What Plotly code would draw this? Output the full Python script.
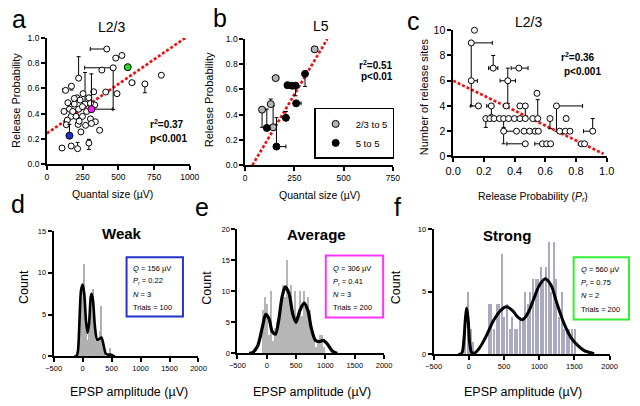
import plotly.graph_objects as go

W, H = 640, 406
FONT = 'Liberation Sans, Arial, sans-serif'

# ---------------- panel a : L2/3, quantal size vs release probability
a_quantal = [419, 482, 525, 385, 464, 222, 801, 595, 686, 172,
             131, 412, 491, 328, 253, 210, 294, 147, 192, 267,
             233, 335, 158, 222, 120, 278, 170, 204, 249, 143,
             305, 339, 219, 271, 369, 238, 136, 106, 170, 215,
             294, 192, 249, 181, 305, 226, 312]
a_prob = [0.913, 0.841, 0.862, 0.746, 0.764, 0.682, 0.705, 0.646, 0.636, 0.618,
          0.585, 0.572, 0.559, 0.574, 0.559, 0.526, 0.526, 0.487, 0.477, 0.477,
          0.508, 0.469, 0.436, 0.436, 0.418, 0.418, 0.379, 0.379, 0.379, 0.349,
          0.359, 0.336, 0.315, 0.308, 0.269, 0.256, 0.313, 0.128, 0.144, 0.123,
          0.167, 0.521, 0.456, 0.418, 0.482, 0.341, 0.323]
# index -> (x minus, x plus, y minus, y plus)
a_errors = {0: (115, 0, 0.02, 0), 4: (200, 0, 0.33, 0), 5: (0, 0, 0, 0.17),
            7: (0, 20, 0, 0), 8: (0, 0, 0.07, 0), 9: (0, 0, 0.03, 0),
            10: (20, 0, 0, 0), 19: (0, 0, 0, 0.25), 39: (0, 0, 0, 0.05),
            40: (0, 0, 0.05, 0.03)}
# the three example connections shown in d, e, f
a_ex_quantal = [158, 312, 566]
a_ex_prob = [0.226, 0.436, 0.769]
a_ex_errors = {0: (0, 0, 0, 0.09), 1: (0, 150, 0, 0.28)}
a_ex_colors = ['#1f2ed6', '#ff1cff', '#22dd22']
a_fit_x = [0, 968]
a_fit_y = [0.244, 1.0]

# ---------------- panel b : L5
b_gray_quantal = [353, 155, 130, 86, 142]
b_gray_prob = [0.918, 0.690, 0.484, 0.440, 0.300]
b_gray_errors = {0: (0, 10, 0, 0.02), 1: (0, 15, 0, 0), 2: (0, 10, 0, 0.04),
                 3: (0, 0, 0.14, 0), 4: (0, 0, 0, 0.17)}
b_black_quantal = [304, 215, 239, 256, 259, 207, 110, 159]
b_black_prob = [0.724, 0.634, 0.630, 0.630, 0.490, 0.375, 0.295, 0.147]
b_black_errors = {0: (0, 0, 0.10, 0), 3: (0, 0, 0.08, 0), 4: (0, 25, 0, 0),
                  5: (0, 0, 0, 0.05), 6: (0, 0, 0, 0.15), 7: (0, 48, 0, 0.23)}
b_fit_x = [37, 417]
b_fit_y = [0.0, 1.0]

# ---------------- panel c : L2/3, release probability vs number of sites
c_prob = [0.139, 0.118, 0.261, 0.428, 0.356, 0.118, 0.546,
          0.165, 0.249, 0.346, 0.435, 0.470, 0.673,
          0.213, 0.239, 0.266, 0.302, 0.329, 0.361, 0.399, 0.435, 0.470, 0.519, 0.551, 0.631, 0.736,
          0.329, 0.413, 0.462, 0.498, 0.534, 0.555, 0.694, 0.730, 0.761, 0.909,
          0.470, 0.582, 0.609, 0.635, 0.835, 0.856]
c_sites = [10, 9, 7, 7, 6, 6, 5,
           4, 4, 4, 4, 4, 4,
           3, 3, 3, 3, 3, 3, 3, 3, 3, 3, 3, 3, 3,
           2, 2, 2, 2, 2, 2, 2, 2, 2, 2,
           1, 1, 1, 1, 1, 1]
c_errors = {1: (0, 0.137, 3.0, 0), 2: (0.03, 0.03, 0, 1.0), 3: (0.05, 0.06, 0, 0),
            4: (0.05, 0.05, 1.8, 1.0), 5: (0, 0.04, 2.0, 0), 6: (0, 0, 0, 0.2),
            7: (0.05, 0, 0, 0), 8: (0.03, 0, 0.7, 0), 12: (0, 0.17, 2.0, 0),
            13: (0, 0, 0.7, 0), 17: (0, 0, 0.7, 0), 21: (0, 0, 0, 1.0),
            23: (0, 0, 0, 1.5), 24: (0, 0, 0.8, 0), 25: (0, 0, 0, 0.2),
            26: (0, 0, 1.0, 0), 27: (0.08, 0, 0, 0), 35: (0.06, 0, 0, 1.0),
            36: (0.12, 0, 0, 0), 37: (0.05, 0, 0, 0), 40: (0.02, 0, 0, 0)}
c_fit_x = [0, 0.98]
c_fit_y = [6.0, 0.2]

# ---------------- panels d, e, f : amplitude histograms with fits
d_bin_start, d_bin_width = -100, 20
d_counts = [0, 1, 2, 5, 7, 8, 11, 5, 3, 2, 3, 5, 7, 7, 8, 4, 2, 1, 2, 2,
            3, 6, 2, 1, 0, 0, 0, 0, 1, 0]
d_fit_x = [-150, -112, -84, -56, -28, 0, 28, 56, 84, 112, 140, 156, 179, 212,
           251, 290, 324, 363, 402, 446, 491, 530, 560]
d_fit_y = [0, 0, 0.5, 4.0, 7.9, 8.6, 7.5, 4.4, 2.8, 4.0, 7.1, 7.5, 6.7, 3.6,
           2.0, 2.1, 2.25, 1.3, 0.3, 0.2, 0.2, 0.05, 0]

e_bin_start, e_bin_width = -60, 35
e_counts = [7, 9, 8, 3, 10, 2, 4, 5, 6, 8, 11, 9, 15, 10, 11, 7, 10, 6, 10, 6,
            10, 8, 9, 7, 4, 3, 1, 2, 3, 3, 1]
e_fit_x = [-300, -238, -155, -72, -17, 39, 94, 149, 205, 260, 315, 382, 442, 498,
           564, 636, 702, 758, 830, 896, 962, 1034, 1117, 1200]
e_fit_y = [0, 0.15, 1.2, 4.3, 6.3, 5.6, 3.5, 3.1, 5.4, 9.0, 10.7, 9.6, 6.4, 5.0,
           6.9, 8.1, 6.9, 4.1, 2.1, 1.9, 2.1, 1.5, 0.4, 0]

f_bin_start, f_bin_width = -55, 37
f_counts = [2, 5, 2, 1, 0, 0, 0, 0, 0, 4, 4, 2, 4, 4, 8, 3, 4, 2, 3, 2,
            2, 3, 3, 5, 4, 5, 6, 6, 6, 7, 6, 7, 9, 5, 9, 6, 3, 5, 2, 2,
            2, 2, 2]
f_fit_x = [-150, -100, -70, -50, -32, -10, 10, 40, 80, 150, 250, 350, 450, 534,
           620, 700, 764, 840, 920, 1000, 1087, 1170, 1250, 1350, 1457, 1550, 1640, 1780]
f_fit_y = [0, 0.1, 1.2, 2.8, 3.7, 2.8, 1.0, 0.15, 0.1, 0.5, 1.5, 2.7, 3.5, 3.8,
           3.5, 2.95, 2.76, 3.3, 4.4, 5.5, 6.05, 5.5, 4.1, 2.5, 1.3, 0.7, 0.3, 0.05]

box_lines = {
    'd': ['<i>Q</i> = 156 µV', '<i>P<sub>r</sub></i> = 0.22', '<i>N</i> = 3', 'Trials = 100'],
    'e': ['<i>Q</i> = 306 µV', '<i>P<sub>r</sub></i> = 0.41', '<i>N</i> = 3', 'Trials = 200'],
    'f': ['<i>Q</i> = 560 µV', '<i>P<sub>r</sub></i> = 0.75', '<i>N</i> = 2', 'Trials = 200'],
}


def px(x):
    return x / W


def py(y):
    return 1 - y / H


def points(x, y, errs, xa, ya, color, size=6, name=None, legend=False):
    n = len(x)
    xm, xp, ym, yp = [0] * n, [0] * n, [0] * n, [0] * n
    for i, (a, b, c, d) in errs.items():
        xm[i], xp[i], ym[i], yp[i] = a, b, c, d
    bar = dict(type='data', symmetric=False, color='black', thickness=1, width=2)
    return go.Scatter(x=x, y=y, mode='markers', xaxis=xa, yaxis=ya, cliponaxis=False,
                      marker=dict(size=size, color=color, line=dict(color='black', width=1)),
                      error_x=dict(bar, array=xp, arrayminus=xm),
                      error_y=dict(bar, array=yp, arrayminus=ym),
                      name=name, showlegend=legend)


def fit_line(x, y, xa, ya):
    return go.Scatter(x=x, y=y, mode='lines', xaxis=xa, yaxis=ya, showlegend=False,
                      line=dict(color='#ee1111', width=2.7, dash='3px,2px'))


def histogram(start, width, counts, xa, ya, color, frac):
    centers = [start + width * i for i in range(len(counts))]
    return go.Bar(x=centers, y=counts, width=width * frac, xaxis=xa, yaxis=ya,
                  marker=dict(color=color, line=dict(width=0)), showlegend=False)


def curve(x, y, xa, ya, lw):
    return go.Scatter(x=x, y=y, mode='lines', xaxis=xa, yaxis=ya, showlegend=False,
                      cliponaxis=False,
                      line=dict(color='black', width=lw, shape='spline', smoothing=0.8))


fig = go.Figure()

# a
fig.add_trace(fit_line(a_fit_x, a_fit_y, 'x', 'y'))
fig.add_trace(points(a_quantal, a_prob, a_errors, 'x', 'y', 'white'))
fig.add_trace(points(a_ex_quantal, a_ex_prob, a_ex_errors, 'x', 'y', a_ex_colors, size=7))
# b
fig.add_trace(fit_line(b_fit_x, b_fit_y, 'x2', 'y2'))
fig.add_trace(points(b_gray_quantal, b_gray_prob, b_gray_errors, 'x2', 'y2', '#b4b4b4',
                     size=7, name='2/3 to 5', legend=True))
fig.add_trace(points(b_black_quantal, b_black_prob, b_black_errors, 'x2', 'y2', 'black',
                     size=7, name='5 to 5', legend=True))
# c
fig.add_trace(fit_line(c_fit_x, c_fit_y, 'x3', 'y3'))
fig.add_trace(points(c_prob, c_sites, c_errors, 'x3', 'y3', 'white'))
# d, e, f
fig.add_trace(histogram(d_bin_start, d_bin_width, d_counts, 'x4', 'y4', '#b0b0b0', 1.0))
fig.add_trace(curve(d_fit_x, d_fit_y, 'x4', 'y4', 2.6))
fig.add_trace(histogram(e_bin_start, e_bin_width, e_counts, 'x5', 'y5', '#b6b6b6', 0.75))
fig.add_trace(curve(e_fit_x, e_fit_y, 'x5', 'y5', 3.2))
fig.add_trace(histogram(f_bin_start, f_bin_width, f_counts, 'x6', 'y6', '#a9a9c0', 0.8))
fig.add_trace(curve(f_fit_x, f_fit_y, 'x6', 'y6', 3.0))

axis = dict(showline=True, linecolor='black', linewidth=1.5, ticks='outside', ticklen=4,
            tickwidth=1.5, tickcolor='black', showgrid=False, zeroline=False,
            tickfont=dict(size=8.5, color='black'))
hist_axis = dict(axis, linewidth=2, tickwidth=2, tickfont=dict(size=7.5, color='black'))

fig.update_layout(
    width=W, height=H, margin=dict(l=0, r=0, t=0, b=0),
    plot_bgcolor='white', paper_bgcolor='white',
    font=dict(family=FONT, color='black'),
    bargap=0,
    xaxis=dict(axis, domain=[px(40), px(187)], range=[0, 1000], anchor='y',
               tickvals=[0, 250, 500, 750, 1000]),
    yaxis=dict(axis, domain=[py(163), py(33)], range=[0, 1], anchor='x',
               tickvals=[0, 0.2, 0.4, 0.6, 0.8, 1.0], tickformat='.1f'),
    xaxis2=dict(axis, domain=[px(244), px(396)], range=[0, 750], anchor='y2',
                tickvals=[0, 250, 500, 750]),
    yaxis2=dict(axis, domain=[py(164), py(34)], range=[0, 1], anchor='x2',
                tickvals=[0, 0.2, 0.4, 0.6, 0.8, 1.0], tickformat='.1f'),
    xaxis3=dict(axis, domain=[px(458), px(616)], range=[0, 1], anchor='y3',
                tickvals=[0, 0.2, 0.4, 0.6, 0.8, 1.0], tickformat='.1f',
                tickfont=dict(size=11, color='black')),
    yaxis3=dict(axis, domain=[py(155), py(25)], range=[0, 10], anchor='x3',
                tickvals=[0, 2, 4, 6, 8, 10], tickfont=dict(size=10.5, color='black')),
    xaxis4=dict(hist_axis, domain=[px(47), px(196)], range=[-500, 2000], anchor='y4',
                tickvals=[-500, 0, 500, 1000, 1500, 2000]),
    yaxis4=dict(hist_axis, domain=[py(361), py(232)], range=[0, 15], anchor='x4',
                tickvals=[0, 5, 10, 15]),
    xaxis5=dict(hist_axis, domain=[px(236), px(387)], range=[-500, 2000], anchor='y5',
                tickvals=[-500, 0, 500, 1000, 1500, 2000]),
    yaxis5=dict(hist_axis, domain=[py(358), py(230)], range=[0, 20], anchor='x5',
                tickvals=[0, 5, 10, 15, 20]),
    xaxis6=dict(hist_axis, domain=[px(438), px(619)], range=[-500, 2000], anchor='y6',
                tickvals=[-500, 0, 500, 1000, 1500, 2000]),
    yaxis6=dict(hist_axis, domain=[py(359), py(230)], range=[0, 10], anchor='x6',
                tickvals=[0, 5, 10]),
    legend=dict(x=px(315), y=py(105), xanchor='left', yanchor='top', bgcolor='white',
                bordercolor='black', borderwidth=1.5, font=dict(size=9.5),
                itemwidth=30, tracegroupgap=0),
)


def text(x, y, s, size, bold=False, angle=0, xanchor='center'):
    if bold:
        s = '<b>' + s + '</b>'
    fig.add_annotation(x=px(x), y=py(y), xref='paper', yref='paper', text=s,
                       showarrow=False, textangle=angle, xanchor=xanchor, yanchor='middle',
                       font=dict(size=size, color='black', family=FONT))


# panel letters
for letter, x, y in [('a', 11, 13), ('b', 218, 12), ('c', 417, 15),
                     ('d', 10, 204), ('e', 200, 207), ('f', 401, 207)]:
    text(x, y, letter, 25)

# panel titles
text(107, 22, 'L2/3', 14)
text(322, 21, 'L5', 14)
text(536, 17, 'L2/3', 14)
text(117, 234, 'Weak', 15, bold=True)
text(317, 235, 'Average', 15, bold=True)
text(513, 237, 'Strong', 15, bold=True)

# statistics
text(164, 122, 'r<sup>2</sup>=0.37', 10, bold=True)
text(165, 137, 'p<0.001', 10, bold=True)
text(379, 61, 'r<sup>2</sup>=0.51', 10, bold=True)
text(380, 73, 'p<0.01', 10, bold=True)
text(587, 53, 'r<sup>2</sup>=0.36', 10, bold=True)
text(591, 68, 'p<0.001', 10, bold=True)

# axis titles
text(108, 194, 'Quantal size (µV)', 10.5)
text(320, 195, 'Quantal size (µV)', 10.5)
text(540, 197, 'Release Probability (<i>P<sub>r</sub></i>)', 10.5)
text(8, 97, 'Release Probability', 11, angle=-90)
text(207, 97, 'Release Probability', 11, angle=-90)
text(428, 93, 'Number of release sites', 11, angle=-90)
for x in (17, 205, 400):
    text(x, 290, 'Count', 12.5, angle=-90)
for x in (125, 313, 530):
    text(x, 398, 'EPSP amplitude (µV)', 12.5)

# parameter boxes
for key, (x0, y0, x1, y1), color, tx, rows in [
        ('d', (122, 259, 180, 320), '#2233cc', 127, (270, 283, 297, 311)),
        ('e', (327, 257, 386, 321), '#ff33ff', 332, (271, 284, 297, 311)),
        ('f', (582, 259, 639, 323), '#33ee33', 588, (272, 285, 298, 313))]:
    fig.add_shape(type='rect', xref='paper', yref='paper', x0=px(x0), x1=px(x1),
                  y0=py(y1), y1=py(y0), line=dict(color=color, width=2))
    for line, ty in zip(box_lines[key], rows):
        text(tx, ty, line, 7.5, xanchor='left')

# the page body keeps a default 8px margin, drop it so the figure fills the window
fig.write_html("out.html", config={'displayModeBar': False},
               post_script="document.body.style.margin='0';")
